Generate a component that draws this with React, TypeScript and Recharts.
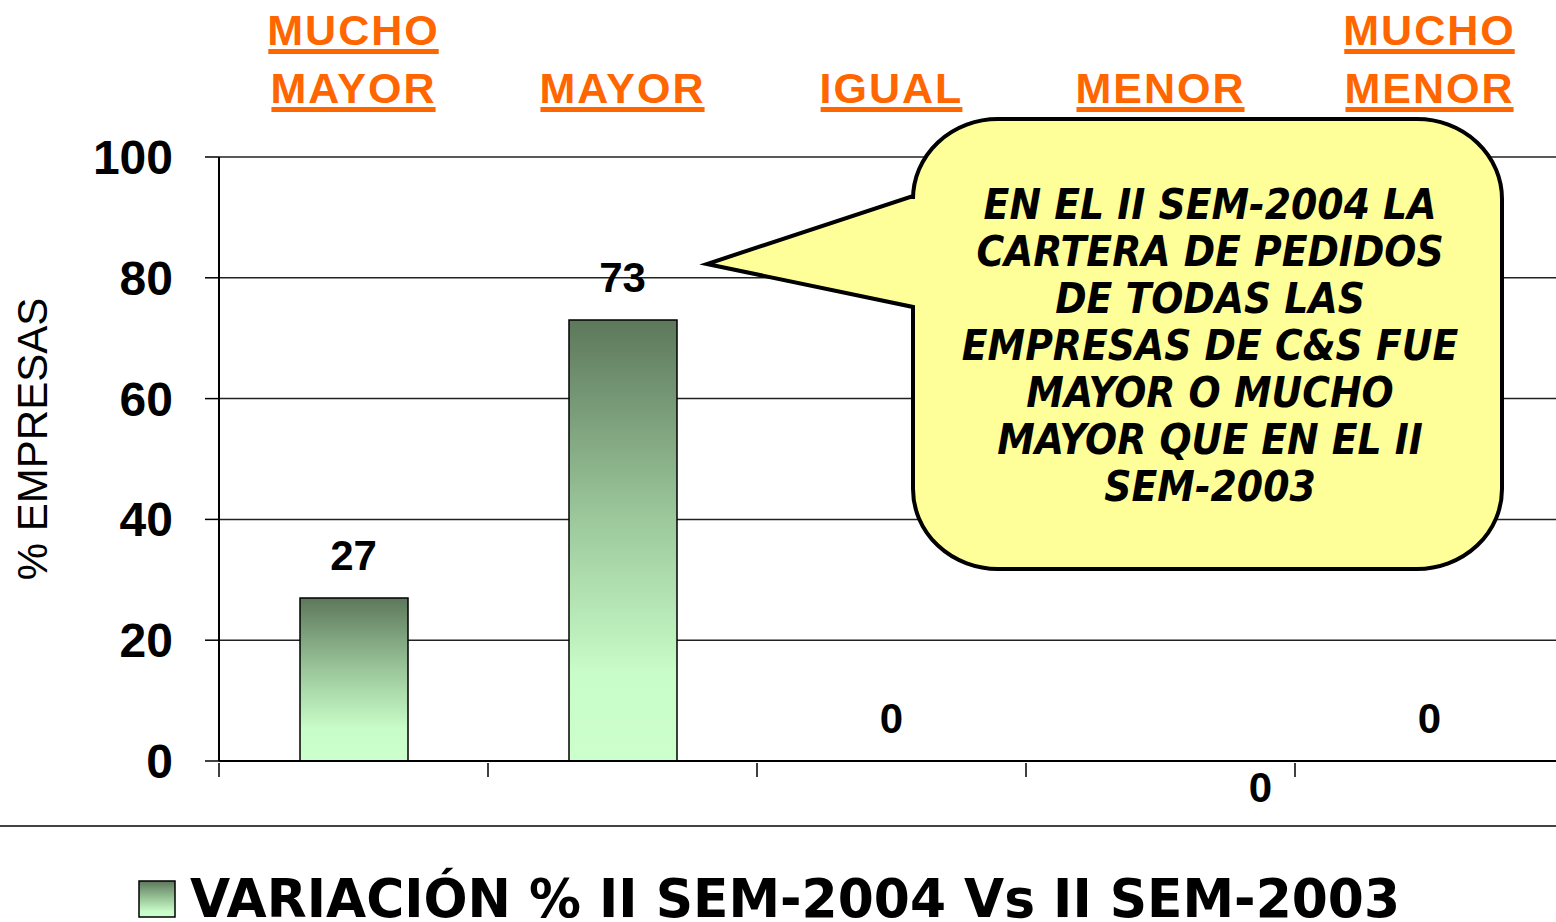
import React from 'react';
import { ComposedChart, Bar, Line, XAxis, YAxis, CartesianGrid, Legend, LabelList } from 'recharts';

// categories as printed above the plot (two-word ones wrap onto two lines)
const categories = ['MUCHO MAYOR', 'MAYOR', 'IGUAL', 'MENOR', 'MUCHO MENOR'];
const values = [27, 73, 0, 0, 0];
const yTicks = [0, 20, 40, 60, 80, 100];
const seriesName = 'VARIACIÓN % II SEM-2004 Vs II SEM-2003';
const yLabel = '% EMPRESAS';
const calloutLines = [
  'EN EL II SEM-2004 LA',
  'CARTERA DE PEDIDOS',
  'DE TODAS LAS',
  'EMPRESAS DE C&S FUE',
  'MAYOR O MUCHO',
  'MAYOR QUE EN EL II',
  'SEM-2003',
];

const data = categories.map((cat, i) => ({ cat, value: values[i] }));

const ARIAL = '"Liberation Sans", Arial, sans-serif';
const ORANGE = '#ff6600';

let measureCtx: CanvasRenderingContext2D | null = null;
function textWidth(text: string, font: string, spacing: number) {
  if (!measureCtx) measureCtx = document.createElement('canvas').getContext('2d');
  if (!measureCtx) return text.length * 30;
  measureCtx.font = font;
  return measureCtx.measureText(text).width + spacing * (text.length - 1);
}

function CategoryTick(props: any) {
  const { x, y, payload } = props;
  const words = String(payload.value).split(' ');
  const spacing = 2;
  return (
    <g>
      {words.map((w, i) => {
        const base = y - 54 - (words.length - 1 - i) * 58;
        const width = textWidth(w, `bold 43px ${ARIAL}`, spacing);
        return (
          <g key={w + i}>
            <text
              x={x}
              y={base}
              textAnchor="middle"
              fill={ORANGE}
              fontFamily={ARIAL}
              fontWeight="bold"
              fontSize={43}
              letterSpacing={spacing}
            >
              {w}
            </text>
            <rect x={x - width / 2} y={base + 4} width={width} height={5} fill={ORANGE} />
          </g>
        );
      })}
    </g>
  );
}

// tick marks sit on the category boundaries, not under the bars
function BoundaryTick(props: any) {
  const { x, y, index, width } = props;
  const half = width / categories.length / 2;
  const xs = [x - half];
  if (index === categories.length - 1) xs.push(x + half);
  return (
    <g>
      {xs.map((bx, i) => (
        <line key={i} x1={bx} y1={y} x2={bx} y2={y + 14} stroke="#000" strokeWidth={1.5} />
      ))}
    </g>
  );
}

function ValueLabel(props: any) {
  const { x, y, value, index } = props;
  // the MENOR zero sits below the baseline, shifted right, as in the original
  const below = index === 3;
  return (
    <text
      x={x + (below ? 100 : 0)}
      y={below ? y + 41 : y - 28}
      textAnchor="middle"
      fontFamily={ARIAL}
      fontWeight="bold"
      fontSize={42}
      fill="#000"
    >
      {value}
    </text>
  );
}

function YLabel(props: any) {
  const vb = props.viewBox || { y: 157, height: 604 };
  const cy = vb.y + vb.height / 2 - 20;
  return (
    <text
      x={32}
      y={cy}
      transform={`rotate(-90, 32, ${cy})`}
      textAnchor="middle"
      dominantBaseline="central"
      fontFamily={ARIAL}
      fontSize={42}
      fill="#000"
    >
      {yLabel}
    </text>
  );
}

function LegendContent(props: any) {
  const item = (props.payload || []).find((p: any) => p.dataKey === 'value' && p.type !== 'none');
  return (
    <svg width={1556} height={90} style={{ display: 'block', overflow: 'visible' }}>
      <defs>
        <linearGradient id="legendGrad" x1="0" y1="0" x2="0" y2="1">
          <stop offset="0%" stopColor="#5d785b" />
          <stop offset="50%" stopColor="#9cc89c" />
          <stop offset="85%" stopColor="#c8fcc8" />
          <stop offset="100%" stopColor="#ccffcc" />
        </linearGradient>
      </defs>
      <rect x={139} y={31} width={36} height={36} fill="url(#legendGrad)" stroke="#000" strokeWidth={1.5} />
      <text
        x={190}
        y={67}
        fontFamily='"DejaVu Sans", Verdana, sans-serif'
        fontWeight="bold"
        fontSize={53}
        fill="#000"
        textLength={1210}
        lengthAdjust="spacingAndGlyphs"
      >
        {item ? item.value : seriesName}
      </text>
    </svg>
  );
}

function Callout() {
  const L = 913, R = 1502, T = 119, B = 569, rx = 85, ry = 80;
  const d = [
    `M ${L + rx} ${T}`,
    `L ${R - rx} ${T}`,
    `A ${rx} ${ry} 0 0 1 ${R} ${T + ry}`,
    `L ${R} ${B - ry}`,
    `A ${rx} ${ry} 0 0 1 ${R - rx} ${B}`,
    `L ${L + rx} ${B}`,
    `A ${rx} ${ry} 0 0 1 ${L} ${B - ry}`,
    `L ${L} 307`,
    `L 707 264`,
    `L ${L} 196`,
    `L ${L} ${T + ry}`,
    `A ${rx} ${ry} 0 0 1 ${L + rx} ${T}`,
    'Z',
  ].join(' ');
  return (
    <svg
      width={1556}
      height={922}
      style={{ position: 'absolute', left: 0, top: 0, pointerEvents: 'none' }}
    >
      <path d={d} fill="#ffff99" stroke="#000" strokeWidth={4} strokeLinejoin="miter" />
      {calloutLines.map((line, i) => (
        <text
          key={i}
          x={1210}
          y={219 + i * 47}
          textAnchor="middle"
          fontFamily='"DejaVu Sans Condensed", "DejaVu Sans", sans-serif'
          fontStretch="condensed"
          fontStyle="italic"
          fontWeight="bold"
          fontSize={42}
          fill="#000"
        >
          {line}
        </text>
      ))}
    </svg>
  );
}

export default function App() {
  return (
    <div
      style={{
        position: 'absolute',
        left: 0,
        top: 0,
        width: 1556,
        height: 922,
        overflow: 'hidden',
        background: '#fff',
      }}
    >
      <ComposedChart
        width={1572}
        height={922}
        data={data}
        margin={{ top: 0, right: 8, bottom: 131, left: 0 }}
      >
        <defs>
          <linearGradient id="barGrad" x1="0" y1="0" x2="0" y2="1">
            <stop offset="0%" stopColor="#5d785b" />
            <stop offset="45%" stopColor="#9cc89c" />
            <stop offset="80%" stopColor="#c8fcc8" />
            <stop offset="100%" stopColor="#ccffcc" />
          </linearGradient>
        </defs>
        <CartesianGrid xAxisId="cat" vertical={false} stroke="#222" strokeWidth={1.5} />
        <XAxis
          xAxisId="cat"
          dataKey="cat"
          orientation="top"
          height={157}
          axisLine={false}
          tickLine={false}
          tickSize={0}
          tickMargin={0}
          interval={0}
          tick={<CategoryTick />}
        />
        <XAxis
          xAxisId="base"
          dataKey="cat"
          orientation="bottom"
          height={30}
          axisLine={{ stroke: '#000', strokeWidth: 2 }}
          tickLine={false}
          tickSize={0}
          interval={0}
          tick={<BoundaryTick />}
        />
        <YAxis
          width={219}
          domain={[0, 100]}
          ticks={yTicks}
          interval={0}
          axisLine={{ stroke: '#000', strokeWidth: 2 }}
          tickLine={{ stroke: '#000', strokeWidth: 1.5 }}
          tickSize={14}
          tickMargin={32}
          tick={{ fontFamily: ARIAL, fontWeight: 'bold', fontSize: 48, fill: '#000' }}
          label={<YLabel />}
        />
        <Legend
          verticalAlign="middle"
          align="center"
          layout="horizontal"
          content={<LegendContent />}
          wrapperStyle={{ top: 850, left: 0, width: 1556, height: 90 }}
        />
        <Bar
          xAxisId="cat"
          dataKey="value"
          name={seriesName}
          barSize={108}
          fill="url(#barGrad)"
          stroke="#000"
          strokeWidth={1.5}
          isAnimationActive={false}
        />
        {/* invisible carrier for the value labels, so the zero values get one too */}
        <Line
          xAxisId="cat"
          dataKey="value"
          stroke="none"
          dot={false}
          activeDot={false}
          legendType="none"
          isAnimationActive={false}
        >
          <LabelList dataKey="value" content={<ValueLabel />} />
        </Line>
      </ComposedChart>
      <div
        style={{
          position: 'absolute',
          left: 0,
          top: 825,
          width: 1556,
          height: 0,
          borderTop: '2px solid #444',
        }}
      />
      <Callout />
    </div>
  );
}
